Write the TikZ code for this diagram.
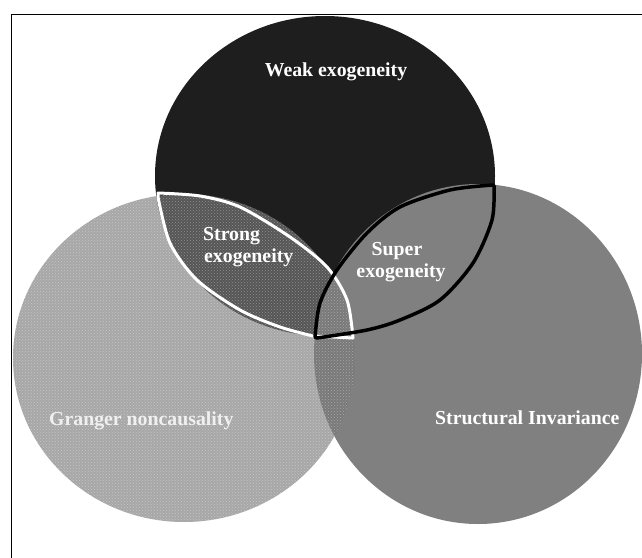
\documentclass[tikz,border=0pt]{standalone}
\usepackage{fontspec}
\setmainfont{Liberation Serif}
\usetikzlibrary{patterns}
\definecolor{weakc}{HTML}{1E1E1E}
\definecolor{structc}{HTML}{808080}
\definecolor{grangc}{HTML}{767676}
\begin{document}
\begin{tikzpicture}[x=1pt,y=-1pt,
  lbl/.style={text=white, font=\bfseries\fontsize{19.8}{22}\selectfont, inner sep=0pt},
  lensw/.style={draw=white, line width=3pt, line join=round},
  lensb/.style={draw=black, line width=3.5pt, line join=round},
  grangshape/.style={fill=grangc, fill opacity=0.64}]
\useasboundingbox (0,0) rectangle (642,557);
\clip (0,0) rectangle (642,557);
\fill[white] (0,0) rectangle (642,557);
% circles
\fill[weakc] (325,176) ellipse [x radius=170, y radius=160];
\fill[structc] (478,354) ellipse [x radius=164, y radius=170];
\path[grangshape] (184,358) ellipse [x radius=171, y radius=164];
\fill[pattern=crosshatch dots, pattern color=white, fill opacity=0.35] (184,358) ellipse [x radius=171, y radius=164];
% strong exogeneity lens
\path[lensw] plot[smooth] coordinates {(158,193) (200,196) (240,207) (290,237) (327,267) (347,300) (353,338)}
  -- plot[smooth] coordinates {(313,336) (280,327) (240,310) (197,280) (170,243) (158,197)} -- cycle;
% super exogeneity lens
\path[lensb] plot[smooth] coordinates {(493,185) (450,190) (400,207) (367,233) (337,270) (320,303) (315,337)}
  -- plot[smooth] coordinates {(317,338) (367,330) (400,320) (440,300) (473,263) (492,220) (494,186)} -- cycle;
% frame
\draw[line width=1.5pt] (11.5,14.5) rectangle (700,600);
% labels
\node[lbl, anchor=base] (weak) at (336,76) {Weak exogeneity};
\node[lbl, anchor=base west] (strong1) at (203,240.7) {Strong};
\node[lbl, anchor=base west] (strong2) at (204,262.7) {exogeneity};
\node[lbl, anchor=base] (super1) at (397,255) {Super};
\node[lbl, anchor=base] (super2) at (401,277) {exogeneity};
\node[lbl, anchor=base west, text=white!88!gray] (granger) at (49,425) {Granger noncausality};
\node[lbl, anchor=base west] (struct) at (435,424) {Structural Invariance};
\end{tikzpicture}
\end{document}
